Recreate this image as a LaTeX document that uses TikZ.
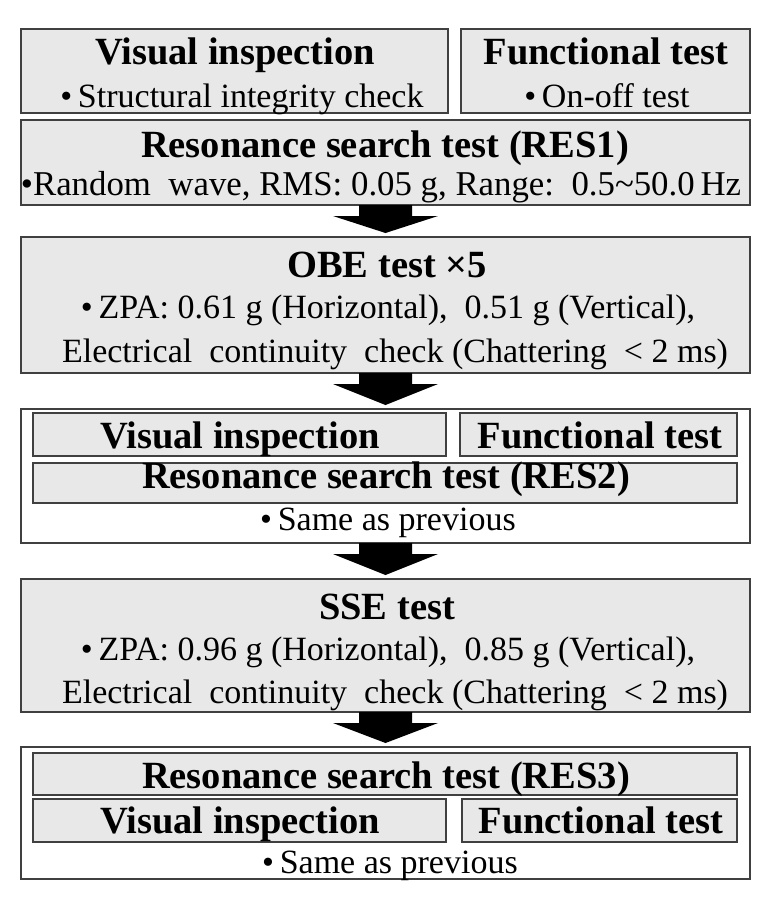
\documentclass[tikz,border=0pt]{standalone}
\usepackage{fontspec}
\setmainfont{Liberation Serif}
\usetikzlibrary{calc}
\definecolor{boxgray}{HTML}{E8E8E8}
\definecolor{edgegray}{HTML}{404040}
\begin{document}
\begin{tikzpicture}[x=1pt,y=-1pt,
  graybox/.style={draw=edgegray, line width=1.6pt, fill=boxgray, inner sep=0pt, outer sep=0pt, anchor=north west},
  whitebox/.style={draw=edgegray, line width=1.6pt, fill=white, inner sep=0pt, outer sep=0pt, anchor=north west},
  head/.style={font=\fontsize{38.5}{41}\selectfont\bfseries, inner sep=0pt, anchor=base},
  body/.style={font=\fontsize{34}{38}\selectfont, inner sep=0pt, anchor=base},
  arrowfill/.style={fill=black}
]
\useasboundingbox (0,0) rectangle (780,906);
\fill[white] (0,0) rectangle (780,906);

% ---- first group
\node[graybox, minimum width=427pt, minimum height=84pt] (vi1) at (21,29) {};
\node[graybox, minimum width=289pt, minimum height=84pt] (ft1) at (461,29) {};
\node[graybox, minimum width=729pt, minimum height=85pt] (res1) at (21,120) {};
\node[head] (vi1h) at (235,64) {Visual inspection};
\node[body] (vi1b) at (242,107) {\textbullet\,Structural integrity check};
\node[head] (ft1h) at (606,64) {Functional test};
\node[body] (ft1b) at (607,107) {\textbullet\,On-off test};
\node[head] (res1h) at (385,157) {Resonance search test (RES1)};
\node[body, font=\fontsize{34.8}{38}\selectfont] (res1b) at (381,195) {\textbullet Random\ \ wave, RMS: 0.05 g, Range:\ \ 0.5\textasciitilde 50.0\,Hz};

% ---- OBE
\node[graybox, minimum width=729pt, minimum height=136pt] (obe) at (21,237) {};
\node[head] (obeh) at (387,277) {OBE test ×5};
\node[body] (obe1) at (388,318) {\textbullet\,ZPA: 0.61 g (Horizontal),\ \ 0.51 g (Vertical),};
\node[body] (obe2) at (395,362) {Electrical\ \ continuity\ \ check (Chattering\ \ < 2 ms)};

% ---- second group
\node[whitebox, minimum width=729pt, minimum height=134pt] (grp2) at (21,409) {};
\node[graybox, minimum width=413pt, minimum height=43pt] (vi2) at (33,413) {};
\node[graybox, minimum width=277pt, minimum height=43pt] (ft2) at (460,413) {};
\node[graybox, minimum width=704pt, minimum height=40pt] (res2) at (33,463) {};
\node[head] (vi2h) at (240,448) {Visual inspection};
\node[head] (ft2h) at (600,448) {Functional test};
\node[head] (res2h) at (386,488) {Resonance search test (RES2)};
\node[body] (grp2b) at (388,530) {\textbullet\,Same as previous};

% ---- SSE
\node[graybox, minimum width=729pt, minimum height=133pt] (sse) at (21,579) {};
\node[head] (sseh) at (387,619) {SSE test};
\node[body] (sse1) at (388,660) {\textbullet\,ZPA: 0.96 g (Horizontal),\ \ 0.85 g (Vertical),};
\node[body] (sse2) at (395,703) {Electrical\ \ continuity\ \ check (Chattering\ \ < 2 ms)};

% ---- third group
\node[whitebox, minimum width=729pt, minimum height=132pt] (grp3) at (21,747) {};
\node[graybox, minimum width=704pt, minimum height=42pt] (res3) at (33,753) {};
\node[graybox, minimum width=413pt, minimum height=43pt] (vi3) at (33,799) {};
\node[graybox, minimum width=275pt, minimum height=43pt] (ft3) at (462,799) {};
\node[head] (res3h) at (386,788) {Resonance search test (RES3)};
\node[head] (vi3h) at (240,833) {Visual inspection};
\node[head] (ft3h) at (601,833) {Functional test};
\node[body] (grp3b) at (390,873) {\textbullet\,Same as previous};

% ---- block arrows
\newcommand{\blockarrow}[2]{%
  \fill[arrowfill] ($(#1.south)+(-26.5,0)$) -- ($(#1.south)+(26.5,0)$)
    -- ($(#1.south)+(26.5,11)$) -- ($(#1.south)+(52.5,11)$)
    -- ($(#2.north)+(0,-4)$)
    -- ($(#1.south)+(-52.5,11)$) -- ($(#1.south)+(-26.5,11)$) -- cycle;}
\blockarrow{res1}{obe}
\blockarrow{obe}{grp2}
\blockarrow{grp2}{sse}
\blockarrow{sse}{grp3}
\end{tikzpicture}
\end{document}
